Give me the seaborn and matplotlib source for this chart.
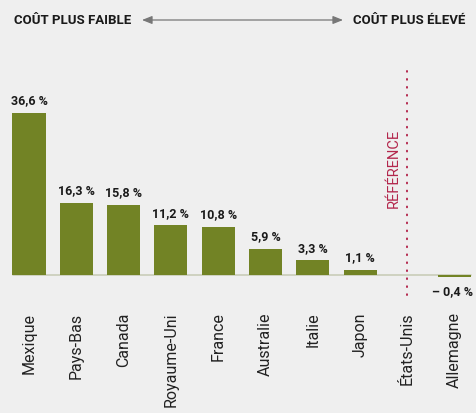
import matplotlib
matplotlib.use("Agg")
import matplotlib.pyplot as plt
import seaborn as sns
import pandas as pd

countries = ["Mexique", "Pays-Bas", "Canada", "Royaume-Uni", "France",
             "Australie", "Italie", "Japon", "États-Unis", "Allemagne"]
values = [36.6, 16.3, 15.8, 11.2, 10.8, 5.9, 3.3, 1.1, 0.0, -0.4]
value_labels = ["36,6 %", "16,3 %", "15,8 %", "11,2 %", "10,8 %",
                "5,9 %", "3,3 %", "1,1 %", "", "– 0,4 %"]
header_left = "COÛT PLUS FAIBLE"
header_right = "COÛT PLUS ÉLEVÉ"
ref_label = "RÉFÉRENCE"
ref_country = "États-Unis"

sns.set_theme(style="white")
bg = "#efefef"
bar_color = "#728325"
red = "#b3264c"
plt.rcParams["font.family"] = ["Roboto", "DejaVu Sans"]

W, H = 476, 413
fig = plt.figure(figsize=(W / 100, H / 100), dpi=100, facecolor=bg)
top_px, bot_px = 40, 300
ax = fig.add_axes([0, 1 - bot_px / H, 1, (bot_px - top_px) / H])
ax.set_facecolor(bg)

df = pd.DataFrame({"pays": countries, "val": values})
sns.barplot(data=df, x="pays", y="val", color=bar_color, width=0.7,
            saturation=1, ax=ax, edgecolor="none")

step = 47.3
x0 = 29
ax.set_xlim(-x0 / step, (W - x0) / step)
pxpu = 4.43
base = 275
ax.set_ylim(-(bot_px - base) / pxpu, (base - top_px) / pxpu)

for s in ax.spines.values():
    s.set_visible(False)
ax.axhline(0, xmin=13 / W, xmax=471 / W, color="#c9cdb8", lw=1.2, zorder=0)

ax.set_xlabel("")
ax.set_ylabel("")
ax.set_yticks([])
ax.set_xticks(range(len(countries)))
ax.set_xticklabels(countries, rotation=90, fontsize=11.5, color="#222222",
                   va="top", ha="center")
ax.tick_params(axis="x", length=0, pad=9)

for i, (v, lab) in enumerate(zip(values, value_labels)):
    if not lab:
        continue
    if v >= 0:
        ax.annotate(lab, (i, v), xytext=(0, 4), textcoords="offset points",
                    ha="center", va="bottom", fontsize=9, fontweight="bold",
                    color="#1a1a1a")
    else:
        ax.annotate(lab, (i + 0.35, v), xytext=(1, -6), textcoords="offset points",
                    ha="right", va="top", fontsize=9, fontweight="bold",
                    color="#1a1a1a")

ri = countries.index(ref_country)
ax.axvline(ri, ymin=(bot_px - 295) / (bot_px - top_px),
           ymax=(bot_px - 65) / (bot_px - top_px),
           color=red, lw=1.4, ls=(0, (0.4, 3.7)), dash_capstyle="round")
ax.text(ri - 0.28, (base - 168) / pxpu, ref_label, rotation=90, color=red,
        ha="center", va="center", fontsize=10.5)

# header
fig.text(14 / W, 1 - 20 / H, header_left, ha="left", va="center",
         fontsize=9.5, fontweight="bold", color="#1a1a1a")
fig.text(465 / W, 1 - 20 / H, header_right, ha="right", va="center",
         fontsize=9.5, fontweight="bold", color="#1a1a1a")
ax.annotate("", xy=(343 / W, 1 - 20 / H), xytext=(142 / W, 1 - 20 / H),
            xycoords="figure fraction", textcoords="figure fraction",
            arrowprops=dict(arrowstyle="<|-|>,head_length=0.5,head_width=0.2",
                            color="#777777", lw=0.9, mutation_scale=12,
                            shrinkA=0, shrinkB=0))

fig.savefig("out.png", dpi=100, facecolor=bg)
